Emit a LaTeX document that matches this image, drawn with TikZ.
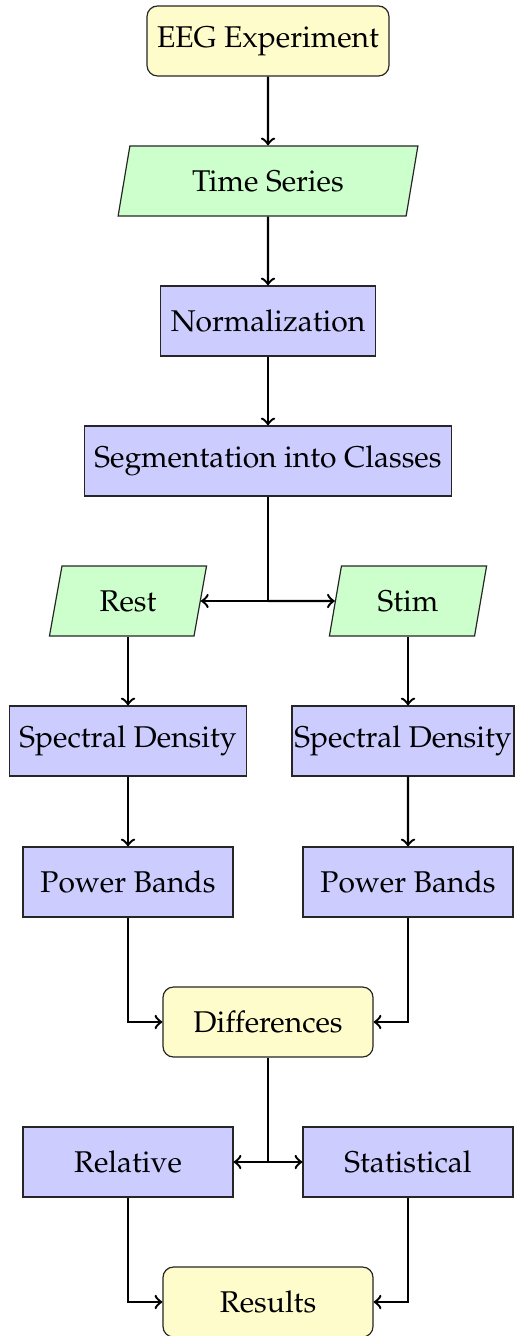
\documentclass[tikz,border=0pt]{standalone}
\usepackage[T1]{fontenc}
\usepackage{mathpazo}
\usetikzlibrary{shapes.geometric,calc}
\begin{document}
\begin{tikzpicture}[x=0.3333pt,y=-0.3333pt,
  base/.style={draw=black!85, line width=0.4pt, minimum height=23.33pt, inner sep=3.33pt},
  term/.style={base, rectangle, rounded corners=3.5pt, fill=yellow!20, minimum width=70pt},
  proc/.style={base, rectangle, fill=blue!20, minimum width=70pt},
  io/.style={base, trapezium, trapezium left angle=80, trapezium right angle=100, trapezium stretches=true, fill=green!20, minimum width=52.5pt},
  conn/.style={->, thick, >=to},
  wire/.style={thick}]
\useasboundingbox (0,0) rectangle (518,1336);
\node[term] (eeg) at (268,41) {EEG Experiment};
\node[io, minimum width=100pt] (ts) at (268,181) {Time Series};
\node[proc] (norm) at (268,321) {Normalization};
\node[proc] (seg) at (268,461) {Segmentation into Classes};
\node[io] (rest) at (128,601) {Rest};
\node[io] (stim) at (408,601) {Stim};
\node[proc] (sd1) at (128,741) {Spectral Density};
\node[proc, inner xsep=0.4pt, minimum width=74pt] (sd2) at (403,741) {Spectral Density};
\node[proc] (pb1) at (128,882) {Power Bands};
\node[proc] (pb2) at (408,882) {Power Bands};
\node[term] (diff) at (268,1022) {Differences};
\node[proc] (rel) at (128,1162) {Relative};
\node[proc] (stat) at (408,1162) {Statistical};
\node[term] (res) at (268,1302) {Results};
\draw[conn] (eeg) -- (ts);
\draw[conn] (ts) -- (norm);
\draw[conn] (norm) -- (seg);
\coordinate (j1) at (seg.south |- rest.east);
\draw[wire] (seg.south) -- (j1);
\draw[conn] (j1) -- (rest.east);
\draw[conn] (j1) -- (stim.west);
\draw[conn] (rest.south) -- (rest.south |- sd1.north);
\draw[conn] (stim.south) -- (stim.south |- sd2.north);
\draw[conn] (sd1) -- (pb1);
\draw[conn] (stim.south |- sd2.south) -- (pb2.north);
\draw[conn] (pb1.south) |- (diff.west);
\draw[conn] (pb2.south) |- (diff.east);
\coordinate (j2) at (diff.south |- rel.east);
\draw[wire] (diff.south) -- (j2);
\draw[conn] (j2) -- (rel.east);
\draw[conn] (j2) -- (stat.west);
\draw[conn] (rel.south) |- (res.west);
\draw[conn] (stat.south) |- (res.east);
\end{tikzpicture}
\end{document}
